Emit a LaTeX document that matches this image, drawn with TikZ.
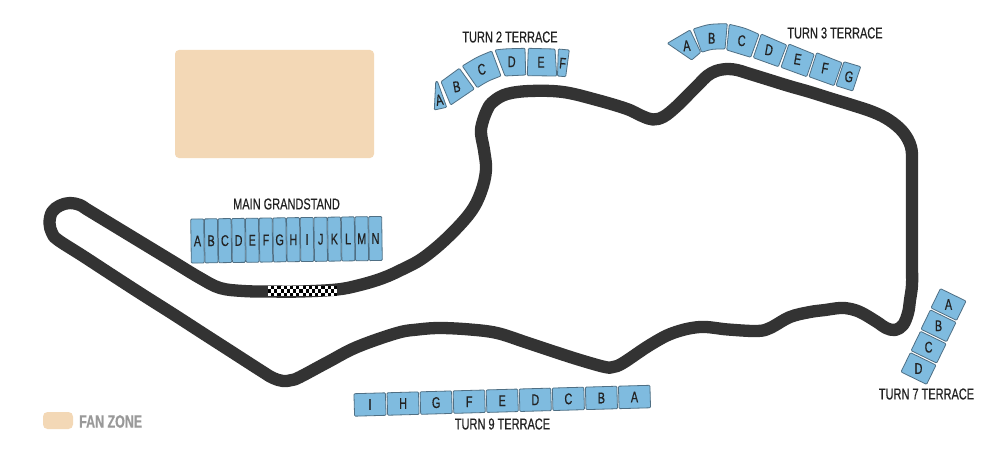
\documentclass[tikz,border=0pt]{standalone}
\usepackage{fontspec}
\setmainfont[FakeStretch=0.7,FakeBold=0.4]{Liberation Sans}
\definecolor{seatfill}{HTML}{7FBBDF}
\definecolor{seatline}{HTML}{4F6F84}
\definecolor{trackc}{HTML}{333333}
\definecolor{fanc}{HTML}{F3D8B6}
\definecolor{inkc}{HTML}{222222}
\definecolor{greyc}{HTML}{999999}
\tikzset{
  seat/.style={draw=seatline,fill=seatfill,line width=0.8pt,rounded corners=1pt,inner sep=0pt,outer sep=0pt},
  seatshape/.style={seat},
  seatlabel/.style={text=inkc,font=\fontsize{15.5}{15.5}\selectfont,inner sep=0pt},
  standlabel/.style={text=inkc,font=\fontsize{15.7}{15.7}\selectfont,inner sep=0pt},
  trackline/.style={draw=trackc,line width=12.3pt,line join=round},
}
\begin{document}
\begin{tikzpicture}[x=1pt,y=-1pt]
\useasboundingbox[fill=white] (0,0) rectangle (1000,452);
% fan zone
\fill[fanc,rounded corners=4pt] (175,50) rectangle (374,158);
\fill[fanc,rounded corners=4.5pt] (43,412) rectangle (73,429);
\node[text=greyc,font=\bfseries\fontsize{17.8}{17.8}\selectfont,inner sep=0pt,anchor=west] (fan) at (79,421.5) {FAN ZONE};
% track
\draw[trackline] plot[smooth cycle,tension=0.6] coordinates {
 (243,291) (268,291.5) (300,291.5) (337,289.5) (360,285) (383,278) (403,269) (423,258) (447,238) (470,213)
 (481,192) (486,170) (484,150) (481,130) (487,110) (494,101) (507,94) (530,91) (563,92) (597,100)
 (627,109) (642,116) (653,119.5) (664,116.5) (677,106) (690,93) (699,84) (707,76) (716,71) (727,69) (737,70) (747,73)
 (768,79.5) (789,86) (810,92) (831,98.6) (852,105) (873,112)
 (889,120) (903,132) (911,147) (912,165) (912,190) (912,215) (912,240) (912,265) (912,285) (910,300) (908,313) (903,325) (895,330) (886,328) (877,322) (862,313) (851,309) (840,308)
 (825,310) (810,312) (790,317) (770,328) (757,331) (728,329.5) (700,327) (673,333) (650,345) (623,363) (613,367) (605,367)
 (580,360) (552,351) (525,342) (497,333) (470,329.5) (440,328) (418,329.5) (397,333) (357,347) (328,362) (300,377) (292,380) (283,381) (273,378) (263,372)
 (233,352.7) (203,333.4) (173,314) (143,295) (113,275.6) (83,256) (58,240) (52,233) (49.5,223) (52,212) (60,205.5) (70,203) (80,205) (88,210) (116,227) (144,244) (172,261) (200,278) (220,288)
};
% start/finish chequer
\fill[white] (268,286) rectangle (337,296);
\foreach \i in {0,...,21}{
  \pgfmathsetmacro{\xa}{268+\i*3.14}
  \pgfmathsetmacro{\xb}{\xa+3.14}
  \ifodd\i
    \fill[black] (\xa,286) rectangle (\xb,289.3);
    \fill[black] (\xa,292.7) rectangle (\xb,296);
  \else
    \fill[black] (\xa,289.3) rectangle (\xb,292.7);
  \fi
}
% main grandstand
\foreach \l [count=\i from 0] in {A,B,C,D,E,F,G,H,I,J,K,L,M,N}{
  \pgfmathsetmacro{\cx}{197.5+\i*13.69}
  \pgfmathsetmacro{\cy}{241-\i*0.19}
  \node[seat,minimum width=13pt,minimum height=44pt,rotate=0.8] (m\l) at (\cx,\cy) {};
  \node[seatlabel] at (m\l) {\l};
}
\node[standlabel] (mainlabel) at (286.5,204) {MAIN GRANDSTAND};
% turn 9
\foreach \l [count=\i from 0] in {I,H,G,F,E,D,C,B,A}{
  \pgfmathsetmacro{\cx}{370+\i*33.06}
  \pgfmathsetmacro{\cy}{404.5-\i*0.94}
  \node[seat,minimum width=31.5pt,minimum height=22.5pt,rotate=1.6] (n\l) at (\cx,\cy) {};
  \node[seatlabel] at (n\l) {\l};
}
\node[standlabel] (t9label) at (502.5,424) {TURN 9 TERRACE};
% turn 7
\foreach \l/\cx/\cy in {A/948.5/304.5,B/938.5/325.8,C/928.6/347.2,D/918.5/368.5}{
  \node[seat,minimum width=28.5pt,minimum height=21.5pt,rotate=-26] (s\l) at (\cx,\cy) {};
  \node[seatlabel] at (s\l) {\l};
}
\node[standlabel] (t7label) at (926.5,394) {TURN 7 TERRACE};
% turn 2
\draw[seatshape] (435.7,81.7) -- (437.5,81.5) -- (446.7,107.3) -- (434.3,110) -- cycle;
\draw[seatshape] (441,81.7) -- (459.3,68.3) -- (474.3,89) -- (450.7,105) -- cycle;
\draw[seatshape] (462.3,66) .. controls (477,57) .. (491.7,51) -- (501,76) .. controls (488,81) .. (477.3,87.7) -- cycle;
\draw[seatshape] (495,50) .. controls (505,48.8) .. (525,48.3) -- (525.7,75) -- (505,76) -- cycle;
\draw[seatshape] (528.3,48.3) -- (555,49) -- (556.7,76) -- (527.3,75.7) -- cycle;
\draw[seatshape] (558.3,49) -- (569.3,50) -- (565.7,76.7) -- (557.5,76) -- cycle;
\node[seatlabel,rotate=12] (ta) at (439.3,100) {A};
\node[seatlabel,rotate=10] (tb) at (456.7,86.7) {B};
\node[seatlabel,rotate=10] (tc) at (481.7,69.3) {C};
\node[seatlabel] (td) at (511.7,61.7) {D};
\node[seatlabel] (te) at (541,62.3) {E};
\node[seatlabel,rotate=-5] (tf) at (562.7,63.3) {F};
\node[standlabel] (t2label) at (510,37) {TURN 2 TERRACE};
% turn 3
\draw[seatshape] (667.3,43.3) -- (690,30) -- (700.7,52.3) -- (691.7,60) -- cycle;
\draw[seatshape] (693.3,29) .. controls (709,24) .. (727.3,23.7) -- (725,49) .. controls (712,49) .. (701.7,52.3) -- cycle;
\draw[seatshape] (729.3,24.3) .. controls (745,28) .. (759,34.3) -- (750.7,57.3) -- (726.7,50) -- cycle;
\draw[seatshape] (761.3,34) -- (786.7,45) -- (778.3,66.7) -- (753.3,57.7) -- cycle;
\draw[seatshape] (789,44) -- (814.3,54.3) -- (806.7,76.7) -- (781,67.3) -- cycle;
\draw[seatshape] (816.7,52.7) -- (842,62.7) -- (834,85.7) -- (809,76.7) -- cycle;
\draw[seatshape] (844,61.7) -- (860.7,66.7) -- (852.7,91) -- (836,85.7) -- cycle;
\node[seatlabel,rotate=5] (ua) at (686.7,45.7) {A};
\node[seatlabel] (ub) at (711.7,38.3) {B};
\node[seatlabel,rotate=-5] (uc) at (741.7,40.7) {C};
\node[seatlabel,rotate=-10] (ud) at (769,50) {D};
\node[seatlabel,rotate=-10] (ue) at (797.7,59.3) {E};
\node[seatlabel,rotate=-10] (uf) at (825,68.3) {F};
\node[seatlabel,rotate=-10] (ug) at (849,76.7) {G};
\node[standlabel] (t3label) at (835,33) {TURN 3 TERRACE};
\end{tikzpicture}
\end{document}
